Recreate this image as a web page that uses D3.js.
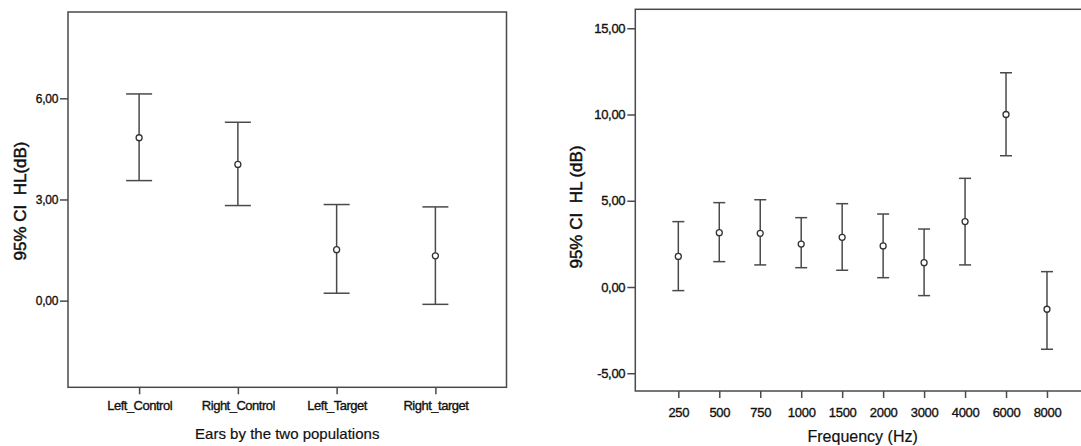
<!DOCTYPE html>
<html><head><meta charset="utf-8">
<script src="https://cdn.jsdelivr.net/npm/d3@7"></script>
<style>
body{margin:0;background:#fff;}
svg{display:block;}
text{font-family:"Liberation Sans",Arial,sans-serif;fill:#111;}
</style></head>
<body><svg id="c" width="1081" height="446"></svg>
<script>
// Left panel data
const earCategories = ["Left_Control","Right_Control","Left_Target","Right_target"];
const earMean  = [4.83, 4.04, 1.51, 1.33];
const earLower = [3.56, 2.82, 0.22, -0.11];
const earUpper = [6.13, 5.29, 2.85, 2.78];
const earTicks = [0, 3, 6];

// Right panel data
const freqCategories = ["250","500","750","1000","1500","2000","3000","4000","6000","8000"];
const freqMean  = [1.77, 3.15, 3.11, 2.49, 2.88, 2.38, 1.41, 3.79, 10.0, -1.29];
const freqLower = [-0.21, 1.47, 1.28, 1.12, 0.97, 0.54, -0.50, 1.28, 7.61, -3.61];
const freqUpper = [3.79, 4.89, 5.06, 4.02, 4.83, 4.23, 3.36, 6.30, 12.42, 0.89];
const freqTicks = [-5, 0, 5, 10, 15];

const svg = d3.select("#c");
const fmt = v => d3.format(".2f")(v).replace(".", ",").replace("−","-");
const lineColor = "#4a4a4a";

function panel(o){
  const g = svg.append("g");
  const x = d3.scalePoint().domain(o.cats).range([o.left, o.right]).padding(o.pad);
  const y = d3.scaleLinear().domain(o.ydom).range([o.bottom, o.top]);
  // frame
  g.append("rect").attr("x", o.left).attr("y", o.top)
    .attr("width", o.right - o.left).attr("height", o.bottom - o.top)
    .attr("fill", "none").attr("stroke", lineColor).attr("stroke-width", 1.5);
  // y axis
  const ya = g.append("g").attr("transform", `translate(${o.left},0)`)
    .call(d3.axisLeft(y).tickValues(o.ticks).tickFormat(fmt).tickSize(8).tickPadding(2));
  ya.select(".domain").remove();
  ya.selectAll("line").attr("stroke", lineColor).attr("stroke-width", 1.5);
  ya.selectAll("text").style("font-size", o.yfs + "px").attr("fill", "#111")
    .attr("stroke", "#111").attr("stroke-width", 0.35).attr("letter-spacing", "-0.3px");
  // x axis
  const xa = g.append("g").attr("transform", `translate(0,${o.bottom})`)
    .call(d3.axisBottom(x).tickSize(7).tickPadding(o.xpad));
  xa.select(".domain").remove();
  xa.selectAll("line").attr("stroke", lineColor).attr("stroke-width", 1.5);
  xa.selectAll("text").style("font-size", o.xfs + "px").attr("fill", "#111")
    .attr("stroke", "#111").attr("stroke-width", 0.35).attr("letter-spacing", o.xls + "px");
  // error bars
  const data = o.cats.map((c, i) => ({c, m: o.mean[i], lo: o.lower[i], hi: o.upper[i]}));
  const eb = g.selectAll(".eb").data(data).enter().append("g");
  eb.append("line").attr("x1", d => x(d.c)).attr("x2", d => x(d.c))
    .attr("y1", d => y(d.lo)).attr("y2", d => y(d.hi))
    .attr("stroke", lineColor).attr("stroke-width", 1.5);
  ["lo","hi"].forEach(k => {
    eb.append("line").attr("x1", d => x(d.c) - o.cap).attr("x2", d => x(d.c) + o.cap)
      .attr("y1", d => y(d[k])).attr("y2", d => y(d[k]))
      .attr("stroke", lineColor).attr("stroke-width", 1.5);
  });
  eb.append("circle").attr("cx", d => x(d.c)).attr("cy", d => y(d.m)).attr("r", 3)
    .attr("fill", "#fff").attr("stroke", "#333").attr("stroke-width", 1.3);
  // titles
  g.append("text").attr("x", (o.left + o.rightTitle) / 2).attr("y", o.xtY)
    .attr("text-anchor", "middle").style("font-size", o.xtfs + "px")
    .attr("stroke", "#111").attr("stroke-width", 0.2).text(o.xtitle);
  g.append("text").attr("transform", `translate(${o.ytX},${o.ytY}) rotate(-90)`)
    .attr("text-anchor", "middle").style("font-size", o.ytfs + "px").style("white-space", "pre")
    .attr("stroke", "#111").attr("stroke-width", 0.5).text(o.ytitle);
}

panel({cats: earCategories, mean: earMean, lower: earLower, upper: earUpper,
  left: 68, right: 506.5, top: 12, bottom: 387.3, pad: 0.72, ydom: [-2.57, 8.56],
  ticks: earTicks, cap: 13, yfs: 12, xfs: 13, xpad: 6, xls: -0.5,
  xtitle: "Ears by the two populations", xtY: 439, xtfs: 15, rightTitle: 506.5,
  ytitle: "95% CI  HL(dB)", ytX: 26, ytY: 201, ytfs: 17});

panel({cats: freqCategories, mean: freqMean, lower: freqLower, upper: freqUpper,
  left: 635.3, right: 1090, top: 9.3, bottom: 391, pad: 1.05, ydom: [-6.03, 16.1],
  ticks: freqTicks, cap: 6, yfs: 13, xfs: 13, xpad: 10, xls: -0.3,
  xtitle: "Frequency (Hz)", xtY: 442, xtfs: 16, rightTitle: 1090,
  ytitle: "95% CI  HL (dB)", ytX: 582, ytY: 207, ytfs: 17});
</script></body></html>
